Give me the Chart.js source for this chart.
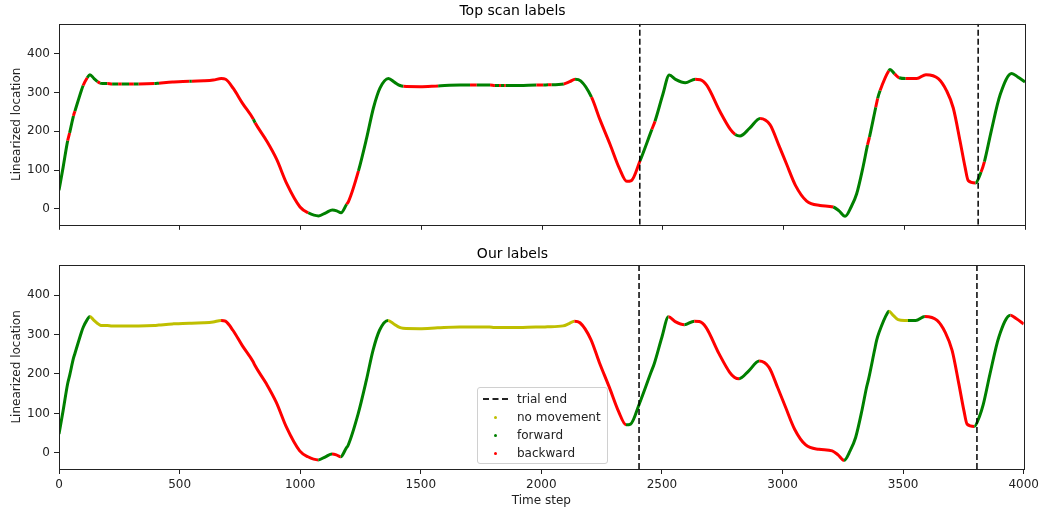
<!DOCTYPE html>
<html>
<head>
<meta charset="utf-8">
<script src="https://cdn.jsdelivr.net/npm/chart.js@4.4.1/dist/chart.umd.min.js"></script>
<style>
  body { margin: 0; background: #fff; font-family: "DejaVu Sans", sans-serif; }
  #wrap { position: relative; width: 1043px; height: 508px; }
  #top { position: absolute; left: 0; top: 0; }
  #bottom { position: absolute; left: 0; top: 236px; }
  #legend {
    position: absolute; left: 477px; top: 387px; width: 129px; height: 75px;
    border: 1px solid #d0d0d0; border-radius: 3px; background: rgba(255,255,255,0.85);
    font-size: 12px; color: #222;
  }
  #legend .row { position: absolute; left: 0; height: 18px; line-height: 18px; }
  #legend .txt { position: absolute; left: 39px; white-space: nowrap; }
  #legend .dash { position: absolute; left: 5px; top: 8px; width: 25px; border-top: 2px dashed #222; }
  #legend .dot { position: absolute; left: 16px; top: 8px; width: 3px; height: 3px; border-radius: 50%; }
</style>
</head>
<body>
<div id="wrap">
  <canvas id="top" width="1043" height="236"></canvas>
  <canvas id="bottom" width="1043" height="272"></canvas>
  <div id="legend">
    <div class="row" style="top:2px"><div class="dash"></div><span class="txt">trial end</span></div>
    <div class="row" style="top:20px"><div class="dot" style="background:#bfbf00"></div><span class="txt">no movement</span></div>
    <div class="row" style="top:38px"><div class="dot" style="background:#008000"></div><span class="txt">forward</span></div>
    <div class="row" style="top:56px"><div class="dot" style="background:#ff0000"></div><span class="txt">backward</span></div>
  </div>
</div>
<script>
// key points
var timeSteps = [0, 17, 36, 44, 60, 66, 93, 100, 117, 128, 145, 160, 170, 180, 200, 220, 245, 260, 290, 310,
  330, 395, 414, 470, 540, 550, 600, 639, 672, 690, 721, 760, 805, 812, 860, 901, 943, 998, 1032, 1075,
  1105, 1132, 1150, 1168, 1191, 1198, 1240, 1274, 1302, 1329, 1364, 1390, 1412, 1426, 1495, 1570, 1661, 1702, 1730, 1785,
  1805, 1822, 1830, 1843, 1850, 1909, 1977, 2005, 2025, 2040, 2090, 2115, 2137, 2160, 2205, 2240, 2282, 2320, 2351, 2370,
  2406, 2455, 2468, 2500, 2527, 2555, 2593, 2634, 2655, 2682, 2737, 2780, 2800, 2820, 2860, 2903, 2944, 2980, 3013, 3050,
  3096, 3151, 3206, 3230, 3255, 3280, 3303, 3330, 3348, 3356, 3382, 3390, 3400, 3436, 3441, 3460, 3479, 3506, 3520, 3552,
  3590, 3641, 3675, 3703, 3731, 3752, 3765, 3795, 3818, 3832, 3860, 3897, 3945, 3970, 4000];
var locations = [48, 107, 176, 196, 240, 252, 306, 318, 338, 346, 336, 328, 324, 323, 323, 322, 322, 322, 322, 322,
  322, 323, 324, 327, 329, 329, 330, 332, 336, 334, 311, 272, 231, 222, 175, 128, 65, 5, -10, -18,
  -10, -3, -5, -10, 12, 18, 98, 183, 260, 311, 336, 326, 318, 316, 315, 317, 319, 319, 319, 319,
  318, 318, 318, 318, 318, 318, 319, 319, 320, 320, 322, 328, 334, 330, 288, 230, 166, 105, 71, 73,
  124, 205, 226, 294, 345, 333, 325, 334, 333, 319, 251, 205, 192, 188, 208, 233, 217, 165, 115, 60,
  20, 9, 5, -5, -19, 5, 39, 110, 165, 185, 262, 285, 305, 356, 359, 348, 338, 336, 336, 336,
  346, 336, 305, 260, 175, 107, 73, 67, 95, 122, 200, 294, 349, 340, 327];

// label changes: time step where a label starts, and the label (n = no movement, f = forward, b = backward)
var topStarts = [0, 36, 44, 60, 66, 100, 117, 160, 170, 200, 220, 245, 260, 290, 310, 330, 395, 414, 540, 550,
  805, 812, 1032, 1191, 1240, 1426, 1570, 1702, 1730, 1785, 1805, 1822, 1830, 1843, 1850, 1977, 2005, 2025, 2040, 2090,
  2137, 2205, 2406, 2455, 2468, 2634, 2800, 2903, 3206, 3348, 3356, 3382, 3390, 3400, 3436, 3460, 3479, 3506, 3795, 3818, 3832];
var topCodes = ['f', 'b', 'f', 'b', 'f', 'b', 'f', 'b', 'f', 'b', 'f', 'b', 'f', 'b', 'f', 'b', 'f', 'b', 'f', 'b',
  'f', 'b', 'f', 'b', 'f', 'b', 'f', 'b', 'f', 'b', 'f', 'b', 'f', 'b', 'f', 'b', 'f', 'b', 'f', 'b',
  'f', 'b', 'f', 'b', 'f', 'b', 'f', 'b', 'f', 'b', 'f', 'b', 'f', 'b', 'f', 'b', 'f', 'b', 'f', 'b', 'f'];
var ourStarts = [0, 128, 672, 1075, 1132, 1168, 1364, 2137, 2351, 2527, 2593, 2634, 2820, 2903, 3255, 3441, 3520, 3590, 3795, 3945];
var ourCodes = ['f', 'n', 'b', 'f', 'b', 'f', 'n', 'b', 'f', 'b', 'f', 'b', 'f', 'b', 'f', 'n', 'f', 'b', 'f', 'b'];

var trialEnds = [2405, 3806];
var yTicks = [0, 100, 200, 300, 400];
var xTicks = [0, 500, 1000, 1500, 2000, 2500, 3000, 3500, 4000];

var colors = { n: '#bfbf00', f: '#008000', b: '#ff0000' };
var FONT = "'DejaVu Sans', sans-serif";

function labelAt(starts, codes, x) {
  var c = codes[0];
  for (var i = 0; i < starts.length; i++) {
    if (starts[i] <= x) c = codes[i];
  }
  return c;
}

var points = timeSteps.map(function (t, i) { return { x: t, y: locations[i] }; });

var frame = {
  id: 'frame',
  afterDraw: function (chart) {
    var a = chart.chartArea, ctx = chart.ctx;
    ctx.save();
    ctx.strokeStyle = '#222';
    ctx.lineWidth = 1;
    ctx.strokeRect(Math.round(a.left) + 0.5, Math.round(a.top) + 0.5, Math.round(a.right - a.left), Math.round(a.bottom - a.top));
    ctx.restore();
  }
};

function makeChart(id, title, starts, codes, showX, titlePad, xHeight) {
  var sets = trialEnds.map(function (t) {
    return {
      data: [{ x: t, y: -41 }, { x: t, y: 477 }],
      borderColor: '#000', borderWidth: 1.5, borderDash: [6, 3], pointRadius: 0
    };
  });
  sets.push({
    data: points,
    borderWidth: 3,
    pointRadius: 0,
    cubicInterpolationMode: 'monotone',
    borderJoinStyle: 'round',
    segment: {
      borderColor: function (ctx) { return colors[labelAt(starts, codes, ctx.p0.parsed.x)]; }
    }
  });
  return new Chart(document.getElementById(id), {
    type: 'line',
    data: { datasets: sets },
    plugins: [frame],
    options: {
      responsive: false,
      animation: false,
      devicePixelRatio: 1,
      layout: { padding: { left: 0, right: 18, top: 0, bottom: 0 } },
      plugins: {
        legend: { display: false },
        tooltip: { enabled: false },
        title: {
          display: true, text: title, color: '#000',
          font: { family: FONT, size: 14, weight: 'normal' },
          padding: titlePad
        }
      },
      scales: {
        x: {
          type: 'linear', min: 0, max: 4000,
          afterBuildTicks: function (s) { s.ticks = xTicks.map(function (v) { return { value: v }; }); },
          afterFit: function (s) { s.height = xHeight; },
          grid: { drawOnChartArea: false, tickLength: 5, tickColor: '#222' },
          border: { display: false },
          ticks: {
            color: '#222', padding: 4, maxRotation: 0,
            font: { family: FONT, size: 12 },
            callback: function (v) { return showX ? String(v) : ''; }
          },
          title: {
            display: showX, text: 'Time step', color: '#222',
            font: { family: FONT, size: 12 }, padding: { top: 0, bottom: 0 }
          }
        },
        y: {
          type: 'linear', min: -41, max: 477,
          afterBuildTicks: function (s) { s.ticks = yTicks.map(function (v) { return { value: v }; }); },
          afterFit: function (s) { s.width = 59; },
          grid: { drawOnChartArea: false, tickLength: 5, tickColor: '#222' },
          border: { display: false },
          ticks: { color: '#222', padding: 4, font: { family: FONT, size: 12 } },
          title: {
            display: true, text: 'Linearized location', color: '#222',
            font: { family: FONT, size: 12 }, padding: { top: 10, bottom: 0 }
          }
        }
      }
    }
  });
}

makeChart('top', 'Top scan labels', topStarts, topCodes, false, { top: 3, bottom: 4 }, 8);
makeChart('bottom', 'Our labels', ourStarts, ourCodes, true, { top: 10, bottom: 2 }, 39);
</script>
</body>
</html>
